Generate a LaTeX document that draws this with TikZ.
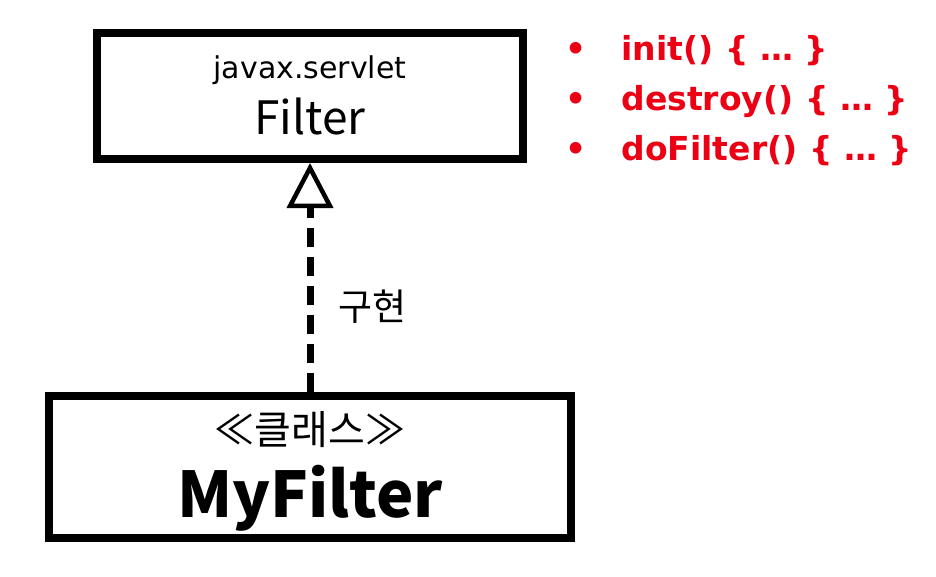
\documentclass[tikz,border=0pt]{standalone}
\usepackage{fontspec}
\setmainfont{Noto Sans CJK KR}
\newfontfamily\widesans{DejaVu Sans}
\usetikzlibrary{arrows.meta,positioning}
\definecolor{listred}{RGB}{235,0,20}
\tikzset{
  classbox/.style={draw,rectangle,line width=8pt,inner sep=0pt},
  realize/.style={line width=7pt,dash pattern=on 19pt off 10pt,
    -{Triangle[open,length=45pt,width=46pt,line width=4.5pt]}},
  methoditem/.style={anchor=base west,text=listred,font=\widesans\fontsize{33}{33}\selectfont\bfseries}
}
\begin{document}
\begin{tikzpicture}[x=1pt,y=-1pt]
\useasboundingbox (0,0) rectangle (936,576);
% interface
\node[classbox,minimum width=426pt,minimum height=126pt](Filter) at (310,96){};
\node[anchor=base,font=\widesans\fontsize{30}{30}\selectfont](pkg) at (310,78){javax.servlet};
\node[anchor=base,font=\fontsize{46}{46}\selectfont](FilterName) at (310,134){Filter};
% class
\node[classbox,minimum width=522pt,minimum height=142pt](MyFilter) at (310,467){};
\node[anchor=base,font=\fontsize{40}{40}\selectfont](stereo) at (310,444){≪클래스≫};
\node[anchor=base,font=\fontsize{63}{63}\selectfont\bfseries](MyFilterName) at (310,517){MyFilter};
% realization
\draw[realize](MyFilter)--(Filter);
\node[anchor=base west,font=\fontsize{37}{37}\selectfont](impl) at (335,320){구현};
% methods
\node[methoditem](init) at (562,60){\makebox[56pt][l]{•}init() \{ … \}};
\node[methoditem](destroy) at (562,110){\makebox[56pt][l]{•}destroy() \{ … \}};
\node[methoditem](doFilter) at (562,160){\makebox[56pt][l]{•}doFilter() \{ … \}};
\end{tikzpicture}
\end{document}
